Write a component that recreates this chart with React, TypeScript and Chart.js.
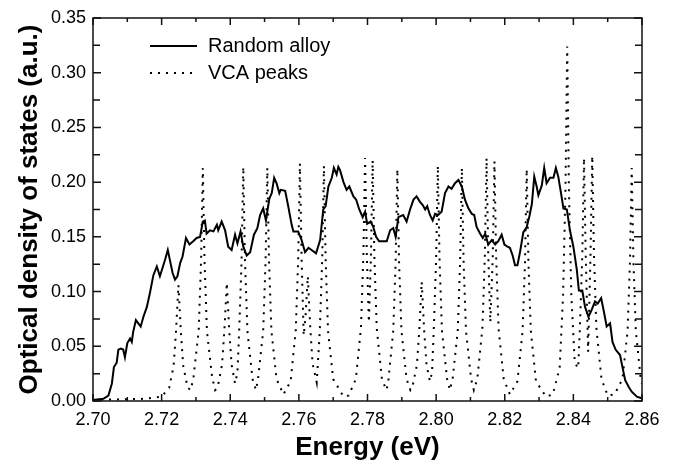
import { useEffect, useRef } from "react";
import { Chart, registerables } from "chart.js";
Chart.register(...registerables);

const FONT = "'Liberation Sans', Arial, sans-serif";

const seriesNames = ["Random alloy", "VCA peaks"];
const xTitle = "Energy (eV)";
const yTitle = "Optical density of states (a.u.)";

const xMajorTicks = [2.7, 2.72, 2.74, 2.76, 2.78, 2.8, 2.82, 2.84, 2.86];
const xMinorTicks = [2.71, 2.73, 2.75, 2.77, 2.79, 2.81, 2.83, 2.85];
const yMajorTicks = [0, 0.05, 0.1, 0.15, 0.2, 0.25, 0.3, 0.35];
const yMinorTicks = [0.025, 0.075, 0.125, 0.175, 0.225, 0.275, 0.325];

const alloyE = [
  2.7, 2.703, 2.7045, 2.7055, 2.7061, 2.7069, 2.7074, 2.7081, 2.7088, 2.7093,
  2.71, 2.7108, 2.7113, 2.7117, 2.7125, 2.7132, 2.7139, 2.7147, 2.7157, 2.7166,
  2.7176, 2.7186, 2.7195, 2.7203, 2.721, 2.7218, 2.7224, 2.7232, 2.7239, 2.7246,
  2.7254, 2.7261, 2.7271, 2.7281, 2.7292, 2.7302, 2.7312, 2.732, 2.7326, 2.7331,
  2.7341, 2.7351, 2.7361, 2.7365, 2.7375, 2.7385, 2.7394, 2.7404, 2.7414, 2.7421,
  2.743, 2.7438, 2.7448, 2.7458, 2.7469, 2.7479, 2.7487, 2.7496, 2.7504, 2.7514,
  2.7521, 2.7528, 2.7535, 2.7543, 2.7547, 2.756, 2.7569, 2.7579, 2.7584, 2.7598,
  2.7608, 2.7618, 2.7628, 2.7637, 2.765, 2.7662, 2.7671, 2.7678, 2.7686, 2.7696,
  2.7702, 2.771, 2.7715, 2.772, 2.773, 2.7739, 2.7747, 2.7759, 2.7767, 2.7776,
  2.7786, 2.7793, 2.7799, 2.7809, 2.7817, 2.7825, 2.7834, 2.7846, 2.7856, 2.7866,
  2.7875, 2.7882, 2.789, 2.7904, 2.7914, 2.7924, 2.7934, 2.7943, 2.7953, 2.7961,
  2.7968, 2.7974, 2.7982, 2.799, 2.7997, 2.8006, 2.8016, 2.8026, 2.8036, 2.8045,
  2.8055, 2.8065, 2.8075, 2.8084, 2.8094, 2.8104, 2.8111, 2.8118, 2.8128, 2.8136,
  2.8143, 2.8152, 2.8162, 2.8172, 2.8181, 2.8191, 2.8199, 2.8208, 2.8215, 2.8223,
  2.823, 2.8237, 2.8245, 2.8254, 2.8264, 2.8272, 2.8279, 2.8286, 2.8293, 2.8298,
  2.8308, 2.8315, 2.8322, 2.8332, 2.8342, 2.8349, 2.8356, 2.8364, 2.8371, 2.8381,
  2.839, 2.84, 2.841, 2.8416, 2.8426, 2.8434, 2.8444, 2.8453, 2.8463, 2.8471,
  2.8481, 2.849, 2.8497, 2.8507, 2.8514, 2.8523, 2.8536, 2.8543, 2.8551, 2.8561,
  2.857, 2.8585, 2.8599,
];
const alloyV = [
  0.001, 0.002, 0.005, 0.016, 0.031, 0.035, 0.047, 0.048, 0.047, 0.04,
  0.053, 0.057, 0.054, 0.063, 0.074, 0.071, 0.068, 0.077, 0.086, 0.099,
  0.115, 0.123, 0.114, 0.122, 0.129, 0.138, 0.129, 0.117, 0.111, 0.114,
  0.126, 0.132, 0.149, 0.143, 0.146, 0.149, 0.15, 0.164, 0.165, 0.153,
  0.156, 0.155, 0.161, 0.156, 0.164, 0.156, 0.141, 0.138, 0.152, 0.144,
  0.155, 0.141, 0.133, 0.136, 0.152, 0.158, 0.17, 0.176, 0.165, 0.185,
  0.19, 0.204, 0.199, 0.19, 0.193, 0.192, 0.178, 0.161, 0.155, 0.155,
  0.147, 0.136, 0.14, 0.138, 0.135, 0.147, 0.175, 0.178, 0.196, 0.204,
  0.213, 0.207, 0.214, 0.211, 0.2, 0.193, 0.196, 0.187, 0.184, 0.175,
  0.168, 0.173, 0.162, 0.164, 0.159, 0.15, 0.146, 0.146, 0.146, 0.156,
  0.158, 0.15, 0.168, 0.17, 0.164, 0.175, 0.184, 0.187, 0.182, 0.179,
  0.175, 0.178, 0.17, 0.165, 0.171, 0.17, 0.173, 0.19, 0.196, 0.194,
  0.199, 0.202, 0.196, 0.184, 0.176, 0.171, 0.17, 0.159, 0.153, 0.149,
  0.153, 0.143, 0.147, 0.143, 0.146, 0.152, 0.143, 0.141, 0.14, 0.133,
  0.124, 0.124, 0.137, 0.154, 0.159, 0.169, 0.18, 0.205, 0.196, 0.188,
  0.197, 0.213, 0.199, 0.204, 0.204, 0.213, 0.205, 0.19, 0.176, 0.175,
  0.156, 0.141, 0.12, 0.101, 0.101, 0.086, 0.077, 0.083, 0.091, 0.089,
  0.094, 0.08, 0.068, 0.071, 0.054, 0.047, 0.042, 0.031, 0.019, 0.013,
  0.0085, 0.004, 0.0025,
];

const vcaE = [
  2.7, 2.715, 2.72,
  2.7222, 2.7235, 2.7242, 2.7249, 2.7256, 2.7263, 2.7276,
  2.7285,
  2.7293, 2.7308, 2.7315, 2.732, 2.7325, 2.7332, 2.7347,
  2.7356,
  2.7363, 2.7376, 2.7383, 2.739, 2.7397, 2.7404, 2.7414,
  2.7421, 2.7426, 2.7433, 2.7438, 2.7443, 2.745, 2.7465,
  2.7475,
  2.7481, 2.7496, 2.7503, 2.7508, 2.7513, 2.752, 2.7535,
  2.7555,
  2.7576, 2.7591, 2.7598, 2.7603, 2.7608, 2.7614,
  2.7619, 2.7626, 2.7633, 2.764, 2.7652,
  2.7661, 2.7668, 2.7673, 2.7678, 2.7685, 2.77,
  2.773, 2.7745,
  2.7766, 2.7781, 2.7788, 2.7793, 2.7798, 2.7804,
  2.781, 2.7815, 2.782, 2.7827, 2.7842,
  2.7855,
  2.786, 2.7875, 2.7882, 2.7887, 2.7892, 2.7899, 2.7914,
  2.7925,
  2.7931, 2.7944, 2.7951, 2.7958, 2.7965, 2.7972, 2.7982,
  2.7988, 2.7993, 2.8, 2.8005, 2.801, 2.8017, 2.8032,
  2.804,
  2.8048, 2.8063, 2.807, 2.8075, 2.808, 2.8087, 2.8102,
  2.811,
  2.812, 2.8135, 2.8142, 2.8147, 2.8152, 2.8158,
  2.8165, 2.817, 2.8175, 2.8182, 2.8197,
  2.8215,
  2.8237, 2.8252, 2.8259, 2.8264, 2.8269, 2.8276, 2.8291,
  2.832, 2.834,
  2.836, 2.837, 2.8377, 2.8382, 2.8387, 2.8394, 2.8404,
  2.8414, 2.8419, 2.8426, 2.8431, 2.8436, 2.8443,
  2.845, 2.8455, 2.846, 2.8467, 2.8482,
  2.85, 2.852,
  2.8543, 2.8558, 2.8565, 2.857, 2.8575, 2.8582, 2.8597,
  2.86,
];
const vcaV = [
  0.001, 0.002, 0.004,
  0.012, 0.032, 0.064, 0.106, 0.064, 0.032, 0.012,
  0.01,
  0.022, 0.064, 0.128, 0.213, 0.128, 0.064, 0.022,
  0.01,
  0.012, 0.033, 0.065, 0.108, 0.065, 0.033, 0.016,
  0.026, 0.064, 0.128, 0.214, 0.128, 0.064, 0.02,
  0.01,
  0.02, 0.064, 0.128, 0.213, 0.128, 0.064, 0.02,
  0.006,
  0.018, 0.065, 0.13, 0.217, 0.13, 0.06,
  0.075, 0.114, 0.068, 0.034, 0.017,
  0.064, 0.129, 0.215, 0.129, 0.064, 0.02,
  0.004, 0.005,
  0.02, 0.067, 0.133, 0.222, 0.133, 0.072,
  0.132, 0.22, 0.132, 0.066, 0.02,
  0.01,
  0.016, 0.064, 0.127, 0.212, 0.127, 0.064, 0.02,
  0.01,
  0.013, 0.033, 0.065, 0.109, 0.065, 0.033, 0.018,
  0.026, 0.064, 0.129, 0.215, 0.129, 0.064, 0.02,
  0.01,
  0.02, 0.064, 0.128, 0.213, 0.128, 0.064, 0.02,
  0.01,
  0.02, 0.067, 0.133, 0.222, 0.133, 0.072,
  0.131, 0.219, 0.131, 0.066, 0.02,
  0.006,
  0.018, 0.064, 0.127, 0.212, 0.127, 0.064, 0.018,
  0.004, 0.006,
  0.03, 0.097, 0.194, 0.324, 0.194, 0.097, 0.035,
  0.03, 0.067, 0.133, 0.222, 0.133, 0.045,
  0.134, 0.224, 0.134, 0.067, 0.02,
  0.005, 0.006,
  0.02, 0.064, 0.128, 0.213, 0.128, 0.064, 0.018,
  0.016,
];

const framePlugin = {
  id: "frameTicks",
  afterDraw(chart: any) {
    const { ctx, chartArea } = chart;
    const xs = chart.scales.x;
    const ys = chart.scales.y;
    const { left, right, top, bottom } = chartArea;
    ctx.save();
    ctx.strokeStyle = "#111";
    ctx.lineWidth = 1.5;
    ctx.beginPath();
    const tick = (x1: number, y1: number, x2: number, y2: number) => {
      ctx.moveTo(x1, y1);
      ctx.lineTo(x2, y2);
    };
    xMajorTicks.forEach((v) => {
      const px = xs.getPixelForValue(v);
      tick(px, bottom, px, bottom - 7);
      tick(px, top, px, top + 7);
    });
    xMinorTicks.forEach((v) => {
      const px = xs.getPixelForValue(v);
      tick(px, bottom, px, bottom - 4);
      tick(px, top, px, top + 4);
    });
    yMajorTicks.forEach((v) => {
      const py = ys.getPixelForValue(v);
      tick(left, py, left + 8, py);
      tick(right, py, right - 8, py);
    });
    yMinorTicks.forEach((v) => {
      const py = ys.getPixelForValue(v);
      tick(left, py, left + 7, py);
      tick(right, py, right - 7, py);
    });
    ctx.stroke();
    ctx.strokeRect(left, top, right - left, bottom - top);
    ctx.restore();
  },
};

const legendPlugin = {
  id: "insideLegend",
  afterDraw(chart: any) {
    const { ctx } = chart;
    const x0 = 150;
    const x1 = 197;
    const rows = [46, 73];
    ctx.save();
    chart.data.datasets.forEach((ds: any, i: number) => {
      const y = rows[i];
      ctx.beginPath();
      ctx.strokeStyle = ds.borderColor;
      ctx.lineWidth = ds.borderWidth;
      ctx.setLineDash(ds.borderDash || []);
      ctx.moveTo(x0, y);
      ctx.lineTo(x1, y);
      ctx.stroke();
      ctx.setLineDash([]);
      ctx.fillStyle = "#000";
      ctx.font = `20px ${FONT}`;
      ctx.textBaseline = "middle";
      ctx.textAlign = "left";
      ctx.fillText(ds.label, 208, y);
    });
    ctx.restore();
  },
};

export default function App() {
  const ref = useRef<HTMLCanvasElement | null>(null);
  useEffect(() => {
    document.body.style.margin = "0";
    const canvas = ref.current;
    if (!canvas) return;
    const chart = new Chart(canvas, {
      type: "line",
      data: {
        datasets: [
          {
            label: seriesNames[0],
            data: alloyE.map((x, i) => ({ x, y: alloyV[i] })),
            borderColor: "#000",
            borderWidth: 2,
            pointRadius: 0,
            tension: 0,
            fill: false,
          },
          {
            label: seriesNames[1],
            data: vcaE.map((x, i) => ({ x, y: vcaV[i] })),
            borderColor: "#000",
            borderWidth: 2,
            borderDash: [2, 6],
            borderCapStyle: "butt",
            pointRadius: 0,
            tension: 0,
            fill: false,
          },
        ],
      },
      options: {
        animation: false,
        responsive: false,
        devicePixelRatio: 1,
        layout: { padding: { top: 18, right: 33, left: 0, bottom: 0 } },
        plugins: { legend: { display: false }, tooltip: { enabled: false } },
        scales: {
          x: {
            type: "linear",
            min: 2.7,
            max: 2.86,
            afterBuildTicks: (s: any) => {
              s.ticks = xMajorTicks.map((v) => ({ value: v }));
            },
            afterFit: (s: any) => {
              s.height = 65;
            },
            ticks: {
              callback: (v: any) => Number(v).toFixed(2),
              font: { family: FONT, size: 18 },
              color: "#000",
              padding: 8,
              maxRotation: 0,
              autoSkip: false,
            },
            grid: { display: false, drawTicks: false },
            border: { display: false },
            title: {
              display: true,
              text: xTitle,
              color: "#000",
              font: { family: FONT, size: 26, weight: "bold" },
              padding: { top: 0, bottom: 3 },
            },
          },
          y: {
            type: "linear",
            min: 0,
            max: 0.35,
            afterBuildTicks: (s: any) => {
              s.ticks = yMajorTicks.map((v) => ({ value: v }));
            },
            afterFit: (s: any) => {
              s.width = 93;
            },
            ticks: {
              callback: (v: any) => Number(v).toFixed(2),
              font: { family: FONT, size: 18 },
              color: "#000",
              padding: 7,
              autoSkip: false,
            },
            grid: { display: false, drawTicks: false },
            border: { display: false },
            title: {
              display: true,
              text: yTitle,
              color: "#000",
              font: { family: FONT, size: 26, weight: "bold" },
              padding: { top: 14, bottom: 0 },
            },
          },
        },
      },
      plugins: [framePlugin, legendPlugin],
    } as any);
    return () => chart.destroy();
  }, []);
  return (
    <div style={{ width: 675, height: 466 }}>
      <canvas ref={ref} width={675} height={466} style={{ display: "block" }} />
    </div>
  );
}
